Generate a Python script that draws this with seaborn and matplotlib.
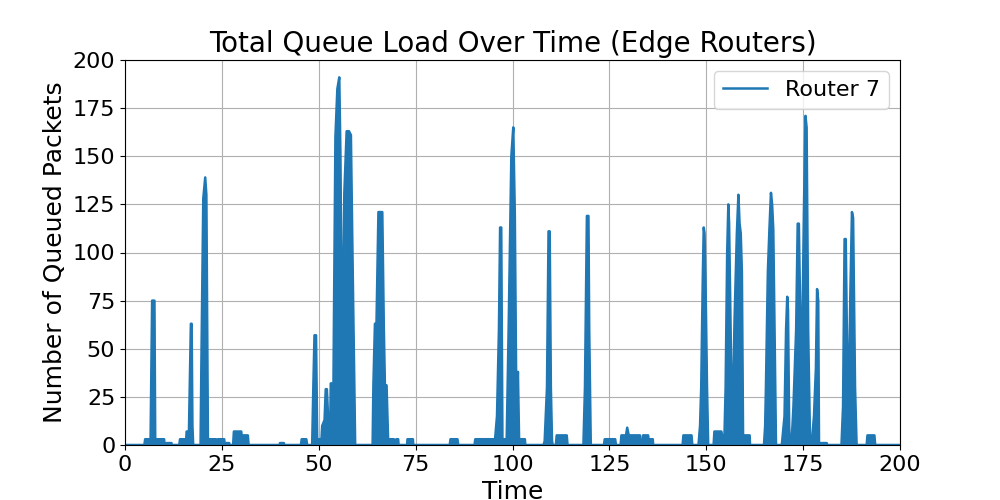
import matplotlib
matplotlib.use("Agg")
import matplotlib.pyplot as plt
import seaborn as sns
import pandas as pd
import numpy as np

# Envelope of the queue-load trace (time, queued packets)
time = [
    0.0, 5.0, 5.2, 6.6, 6.8, 7.0, 7.2, 7.6, 7.8, 10.1, 10.2, 10.6, 10.7, 12.0, 12.1,
    14.0, 14.2, 15.8, 15.9, 16.5, 16.7, 17.0, 17.2, 17.4, 17.6,
    19.5, 19.7, 20.2, 20.7, 21.0, 21.4, 23.5, 23.6, 23.9, 24.0, 25.6, 25.7, 26.9, 27.0,
    27.9, 28.1, 30.0, 30.1, 31.7, 31.9,
    39.9, 40.0, 41.0, 41.1,
    45.4, 45.6, 46.8, 47.0,
    48.3, 48.6, 48.9, 49.3, 49.6, 50.7, 50.9, 51.5, 51.8, 52.1, 52.4, 53.0, 53.1, 53.8, 53.9,
    54.3, 54.8, 55.3, 55.6, 55.9, 56.2, 56.6, 57.2, 57.8, 58.3, 58.7, 59.4,
    63.9, 64.1, 64.5, 64.9, 65.4, 66.4, 66.8, 67.1, 67.3, 67.5, 67.9, 69.4, 69.5,
    69.9, 70.0, 70.5, 70.6,
    72.8, 72.9, 74.3, 74.4,
    83.8, 84.0, 85.8, 86.0,
    90.2, 90.4, 95.5, 96.0, 96.5, 96.8, 97.1, 97.4, 98.5, 99.0, 99.7, 100.2, 100.6, 101.0, 101.4, 101.7, 103.2, 103.3,
    108.0, 108.3, 108.9, 109.3, 109.6, 109.9, 110.2, 110.4, 111.2, 111.4, 114.0, 114.2,
    118.3, 118.7, 119.2, 119.6, 119.8, 120.2,
    123.6, 123.8, 126.5, 126.7,
    127.9, 128.1, 129.3, 129.6, 130.0, 132.9, 133.1, 133.5, 133.7, 135.0, 135.1, 136.2, 136.3,
    143.9, 144.1, 146.2, 146.4,
    148.0, 148.4, 148.7, 149.1, 149.35, 149.55, 149.8, 150.2, 150.5,
    151.9, 152.1, 153.9, 154.1, 154.7, 155.0, 155.4, 155.7, 155.9, 156.5, 156.8, 157.0, 157.3, 157.9, 158.3, 158.6, 158.9, 159.2, 159.5, 161.2, 161.3,
    164.9, 165.2, 165.4, 165.9, 166.3, 166.7, 167.0, 167.3, 167.8, 168.0,
    169.5, 170.2, 170.6, 170.9, 171.1, 171.4, 171.6,
    172.0, 172.5, 173.2, 173.6, 173.9, 174.3, 174.8, 175.2, 175.6, 175.9, 176.3, 176.8,
    177.2, 177.8, 178.3, 178.6, 178.9, 179.1, 181.1, 181.2,
    184.9, 185.3, 185.7, 186.0, 186.4, 186.8, 187.2, 187.6, 187.9, 188.4, 188.8,
    191.4, 191.6, 193.4, 193.6,
    200.0,
]
queued = [
    0, 0, 3, 3, 40, 75, 75, 75, 3, 3, 0, 0, 1, 1, 0,
    0, 3, 3, 7, 7, 30, 63, 63, 10, 0,
    0, 40, 128, 139, 130, 3, 3, 0, 0, 3, 3, 1, 1, 0,
    0, 7, 7, 5, 5, 0,
    0, 1, 1, 0,
    0, 3, 3, 0,
    0, 30, 57, 57, 3, 3, 10, 13, 29, 29, 15, 15, 32, 32, 60,
    160, 185, 191, 150, 67, 67, 131, 163, 163, 161, 100, 0,
    0, 31, 63, 63, 121, 121, 60, 28, 31, 31, 3, 3, 0,
    0, 3, 3, 0,
    0, 3, 3, 0,
    0, 3, 3, 0,
    0, 3, 3, 15, 60, 113, 113, 3, 3, 60, 150, 165, 120, 20, 38, 3, 3, 0,
    0, 2, 30, 111, 111, 30, 2, 0, 0, 5, 5, 0,
    0, 30, 119, 119, 60, 0,
    0, 3, 3, 0,
    0, 5, 5, 9, 5, 5, 0, 0, 5, 5, 3, 3, 0,
    0, 5, 5, 0,
    0, 10, 30, 86, 113, 110, 86, 30, 0,
    0, 7, 7, 5, 5, 30, 100, 125, 115, 30, 23, 34, 65, 110, 130, 115, 110, 90, 5, 5, 0,
    0, 10, 30, 90, 112, 131, 125, 112, 30, 0,
    0, 15, 60, 77, 70, 10, 0,
    0, 20, 60, 115, 115, 62, 60, 120, 171, 165, 60, 0,
    0, 15, 40, 81, 75, 1, 1, 0,
    0, 20, 107, 107, 40, 30, 80, 121, 118, 30, 0,
    0, 5, 5, 0,
    0,
]
series_label = "Router 7"

df = pd.DataFrame({"Time": time, "Queued": queued})

fig, ax = plt.subplots(figsize=(10, 5), dpi=100)
color = "#1f77b4"
sns.lineplot(data=df, x="Time", y="Queued", ax=ax, color=color, linewidth=1.8,
             label=series_label, estimator=None, sort=False)
ax.fill_between(df["Time"], df["Queued"], 0, color=color, linewidth=0)

ax.set_xlim(0, 200)
ax.set_ylim(0, 200)
ax.set_xticks([0, 25, 50, 75, 100, 125, 150, 175, 200])
ax.set_yticks([0, 25, 50, 75, 100, 125, 150, 175, 200])
ax.grid(True, color="#b0b0b0", linewidth=0.8)
ax.set_axisbelow(True)
ax.set_title("Total Queue Load Over Time (Edge Routers)", fontsize=20)
ax.set_xlabel("Time", fontsize=18)
ax.set_ylabel("Number of Queued Packets", fontsize=18)
ax.tick_params(labelsize=16)
ax.legend(fontsize=16, loc="upper right")

fig.savefig("out.png", dpi=100)
